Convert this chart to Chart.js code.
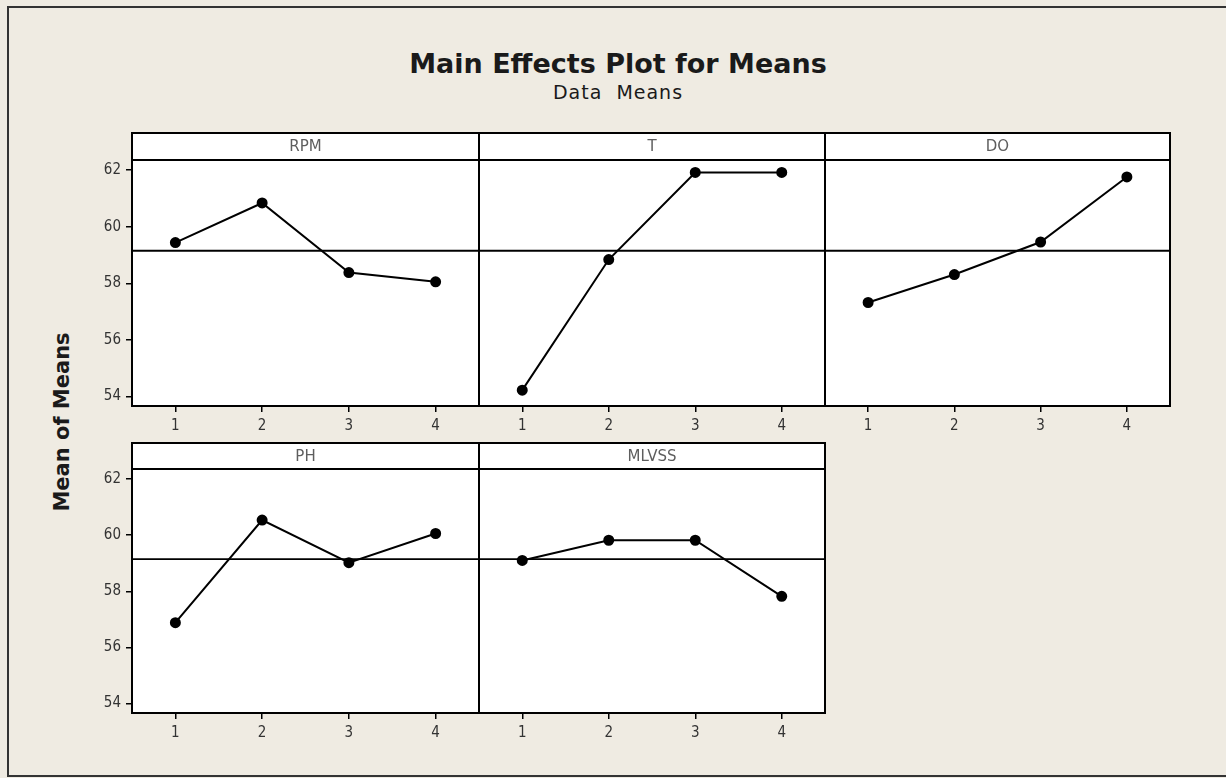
<!DOCTYPE html>
<html>
<head>
<meta charset="utf-8">
<title>Main Effects Plot for Means</title>
<script src="https://cdn.jsdelivr.net/npm/chart.js@4.4.1/dist/chart.umd.min.js"></script>
<style>
  html, body { margin: 0; padding: 0; width: 1226px; height: 778px; overflow: hidden; background: #efebe2; }
  .frame { position: absolute; left: 7px; top: 6px; width: 1250px; height: 771px; box-sizing: border-box; border: 2px solid #333; }
  canvas { position: absolute; left: 0; top: 0; }
  .title { position: absolute; left: 0; width: 1236px; text-align: center; color: #1a1a1a; font-family: "DejaVu Sans", sans-serif; }
  #mainTitle { top: 50px; font-size: 27px; line-height: 27px; font-weight: bold; }
  #subTitle { top: 83px; font-size: 19px; line-height: 19px; letter-spacing: 1px; }
  #yTitle { position: absolute; left: -88px; top: 411px; width: 300px; text-align: center; font-family: "DejaVu Sans", sans-serif;
            font-size: 21px; line-height: 22px; font-weight: bold; color: #1a1a1a; transform: rotate(-90deg); }
</style>
</head>
<body>
<div class="frame"></div>
<div class="title" id="mainTitle">Main Effects Plot for Means</div>
<div class="title" id="subTitle">Data&nbsp; Means</div>
<div id="yTitle">Mean of Means</div>
<div id="panels"></div>
<script>
// factor levels and the mean response at each level
const levels = [1, 2, 3, 4];
const yTicks = [54, 56, 58, 60, 62];
const rpmMeans = [59.44, 60.84, 58.38, 58.05];
const tMeans = [54.22, 58.84, 61.92, 61.92];
const doMeans = [57.32, 58.31, 59.46, 61.76];
const phMeans = [56.88, 60.54, 59.02, 60.06];
const mlvssMeans = [59.10, 59.82, 59.82, 57.82];
const grandMean = 59.15;

// panel grid (pixels on the page)
const colEdges = [132, 479, 825, 1170];
const rows = [
    { head: 133, top: 160, bottom: 406 },
    { head: 443, top: 469, bottom: 713 }
];
const panels = [
    { name: 'RPM', values: rpmMeans, col: 0, row: 0, showY: true },
    { name: 'T', values: tMeans, col: 1, row: 0, showY: false },
    { name: 'DO', values: doMeans, col: 2, row: 0, showY: false },
    { name: 'PH', values: phMeans, col: 0, row: 1, showY: true },
    { name: 'MLVSS', values: mlvssMeans, col: 1, row: 1, showY: false }
];

const W = 1226, H = 778;
const Y_AXIS_W = 40, X_AXIS_H = 32;
const tickFont = { family: '"DejaVu Sans Condensed", "DejaVu Sans", sans-serif', size: 15 };

// white panel, header strip with the factor name, and black frame
const panelFrame = {
    id: 'panelFrame',
    beforeDraw(chart, args, opts) {
        const { ctx, chartArea: a } = chart;
        ctx.save();
        ctx.fillStyle = '#ffffff';
        ctx.fillRect(a.left, opts.head, a.width, a.bottom - opts.head);
        ctx.restore();
    },
    afterDraw(chart, args, opts) {
        const { ctx, chartArea: a } = chart;
        ctx.save();
        ctx.strokeStyle = '#000';
        ctx.lineWidth = 2;
        ctx.strokeRect(a.left, opts.head, a.width, a.bottom - opts.head);
        ctx.beginPath();
        ctx.moveTo(a.left, a.top);
        ctx.lineTo(a.right, a.top);
        ctx.stroke();
        ctx.fillStyle = '#5e5e5e';
        ctx.font = '15px "DejaVu Sans", sans-serif';
        ctx.textAlign = 'center';
        ctx.textBaseline = 'middle';
        ctx.fillText(opts.label, (a.left + a.right) / 2, (opts.head + a.top) / 2 + 1);
        ctx.restore();
    }
};

const holder = document.getElementById('panels');

panels.forEach(p => {
    const canvas = document.createElement('canvas');
    canvas.width = W;
    canvas.height = H;
    holder.appendChild(canvas);

    const r = rows[p.row];
    const left = colEdges[p.col];
    const right = colEdges[p.col + 1];

    new Chart(canvas, {
        type: 'line',
        data: {
            datasets: [
                {
                    data: levels.map((x, i) => ({ x: x, y: p.values[i] })),
                    borderColor: '#000',
                    backgroundColor: '#000',
                    borderWidth: 2,
                    pointRadius: 4.5,
                    pointHoverRadius: 4.5,
                    order: 0
                },
                {
                    data: [{ x: 0.5, y: grandMean }, { x: 4.5, y: grandMean }],
                    borderColor: '#000',
                    borderWidth: 1.8,
                    pointRadius: 0,
                    order: 1
                }
            ]
        },
        options: {
            responsive: false,
            animation: false,
            events: [],
            layout: {
                padding: {
                    left: left - (p.showY ? Y_AXIS_W : 0),
                    right: W - right,
                    top: r.top,
                    bottom: H - r.bottom - X_AXIS_H
                }
            },
            scales: {
                x: {
                    type: 'linear',
                    min: 0.5,
                    max: 4.5,
                    afterBuildTicks: s => { s.ticks = levels.map(v => ({ value: v })); },
                    afterFit: s => { s.height = X_AXIS_H; },
                    border: { display: false },
                    grid: { drawOnChartArea: false, drawTicks: true, tickLength: 6, color: '#000', lineWidth: 1.5 },
                    ticks: { padding: 5, maxRotation: 0, color: '#333', font: tickFont }
                },
                y: {
                    type: 'linear',
                    min: 53.66,
                    max: 62.36,
                    display: p.showY,
                    afterBuildTicks: s => { s.ticks = yTicks.map(v => ({ value: v })); },
                    afterFit: s => { s.width = p.showY ? Y_AXIS_W : 0; },
                    border: { display: false },
                    grid: { drawOnChartArea: false, drawTicks: true, tickLength: 6, color: '#000', lineWidth: 1.5 },
                    ticks: { padding: 5, color: '#333', font: tickFont }
                }
            },
            plugins: {
                legend: { display: false },
                tooltip: { enabled: false },
                panelFrame: { head: r.head, label: p.name }
            }
        },
        plugins: [panelFrame]
    });
});
</script>
</body>
</html>
